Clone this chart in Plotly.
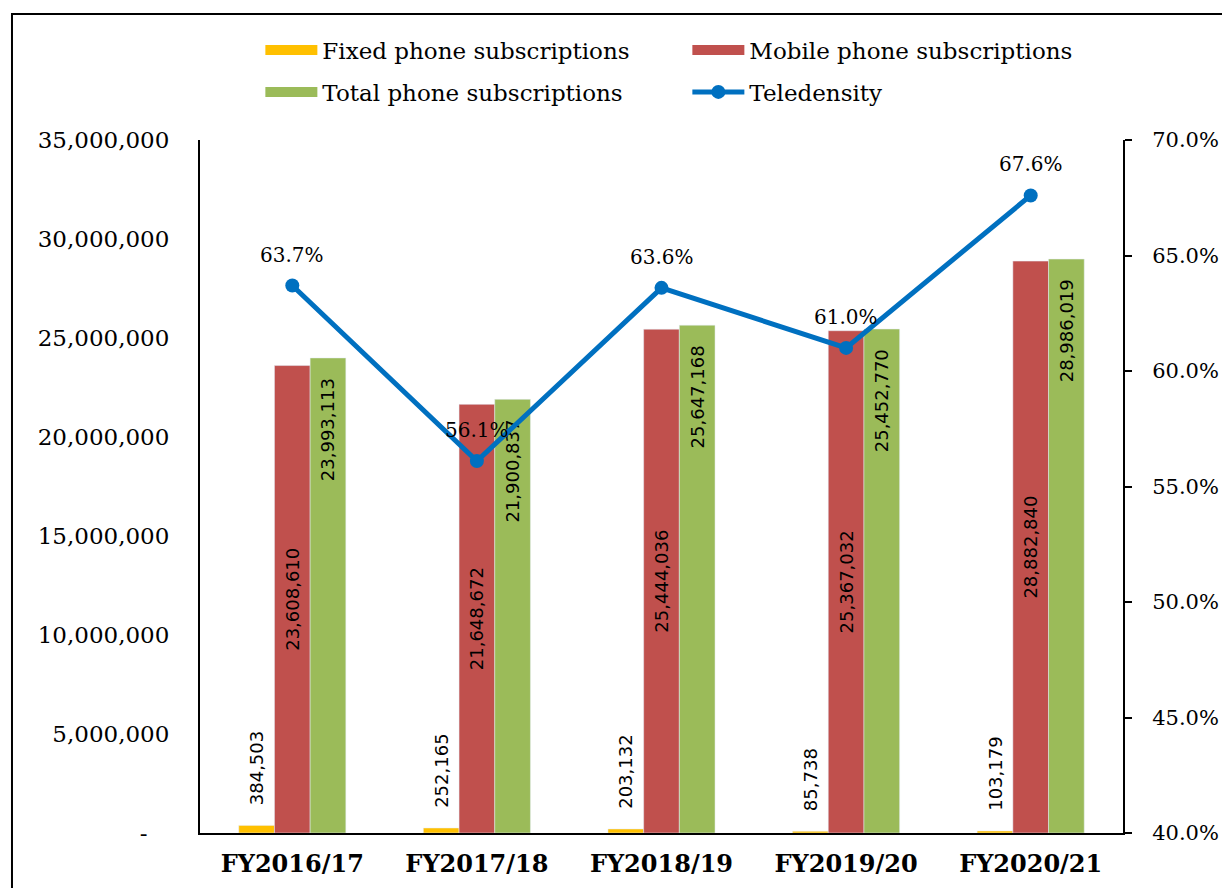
import plotly.graph_objects as go

categories = ["FY2016/17", "FY2017/18", "FY2018/19", "FY2019/20", "FY2020/21"]
fixed = [384503, 252165, 203132, 85738, 103179]
mobile = [23608610, 21648672, 25444036, 25367032, 28882840]
total = [23993113, 21900837, 25647168, 25452770, 28986019]
teledensity = [0.637, 0.561, 0.636, 0.610, 0.676]

left_ticks = [0, 5000000, 10000000, 15000000, 20000000, 25000000, 30000000, 35000000]
left_ticktext = ["-\u00a0\u00a0\u00a0"] + [f"{v:,}" for v in left_ticks[1:]]

SERIF = "DejaVu Serif"
SANS = "DejaVu Sans"
NB = "\u00a0"

C_FIXED, C_MOBILE, C_TOTAL, C_TELE = "#FFC000", "#C0504D", "#9BBB59", "#0070C0"

fig = go.Figure()

fig.add_trace(go.Bar(
    x=categories, y=fixed, name="Fixed phone subscriptions", showlegend=False,
    marker=dict(color=C_FIXED),
    text=[NB * 3 + f"{v:,}" for v in fixed], textposition="outside", textangle=-90,
    outsidetextfont=dict(family=SANS, size=18, color="black"),
    cliponaxis=False, constraintext="none",
))
fig.add_trace(go.Bar(
    x=categories, y=mobile, name="Mobile phone subscriptions", showlegend=False,
    marker=dict(color=C_MOBILE),
    text=[f"{v:,}" for v in mobile], textposition="inside", textangle=-90,
    insidetextanchor="middle",
    insidetextfont=dict(family=SANS, size=18, color="black"),
    constraintext="none",
))
fig.add_trace(go.Bar(
    x=categories, y=total, name="Total phone subscriptions", showlegend=False,
    marker=dict(color=C_TOTAL),
    text=[f"{v:,}" + NB * 3 for v in total], textposition="inside", textangle=-90,
    insidetextanchor="end",
    insidetextfont=dict(family=SANS, size=18, color="black"),
    constraintext="none",
))
fig.add_trace(go.Scatter(
    x=categories, y=teledensity, name="Teledensity", yaxis="y2", showlegend=False,
    mode="lines+markers",
    line=dict(color=C_TELE, width=5),
    marker=dict(color=C_TELE, size=14),
    cliponaxis=False,
))

# legend entries (wide swatches as in the original)
legend_items = [
    ("Fixed phone subscriptions", C_FIXED, "lines", "legend"),
    ("Mobile phone subscriptions", C_MOBILE, "lines", "legend"),
    ("Total phone subscriptions", C_TOTAL, "lines", "legend2"),
    ("Teledensity", C_TELE, "lines+markers", "legend2"),
]
for name, col, mode, lg in legend_items:
    is_line = mode != "lines"
    fig.add_trace(go.Scatter(
        x=[None], y=[None], name=name, mode=mode, legend=lg,
        line=dict(color=col, width=5 if is_line else 13),
        marker=dict(color=col, size=14),
        hoverinfo="skip",
    ))

annotations = [
    dict(x=c, y=v, yref="y2", xref="x", text=f"{v*100:.1f}%", showarrow=False,
         yshift=31, font=dict(family=SERIF, size=20, color="black"))
    for c, v in zip(categories, teledensity)
]

legend_common = dict(
    orientation="h", xanchor="left", yanchor="middle",
    entrywidth=360, entrywidthmode="pixels",
    font=dict(family=SERIF, size=23, color="black"),
    itemwidth=52, bgcolor="rgba(0,0,0,0)", traceorder="normal",
)

fig.update_layout(
    width=1222, height=888,
    margin=dict(l=200, r=99, t=140, b=55, autoexpand=False),
    paper_bgcolor="white", plot_bgcolor="white",
    barmode="group", bargap=0.42, bargroupgap=0,
    font=dict(family=SERIF, size=22, color="black"),
    showlegend=True,
    legend=dict(x=0.0654, y=1.1299, **legend_common),
    legend2=dict(x=0.0654, y=1.0693, **legend_common),
    annotations=annotations,
    xaxis=dict(
        showline=True, linecolor="black", linewidth=2,
        ticks="", showgrid=False, ticklabelstandoff=8,
        tickfont=dict(family=SERIF, size=24, color="black", weight="bold"),
    ),
    yaxis=dict(
        range=[0, 35000000], tickvals=left_ticks, ticktext=left_ticktext,
        showline=True, linecolor="black", linewidth=2,
        ticks="", showgrid=False, zeroline=False,
        ticklabelstandoff=24,
        tickfont=dict(family=SERIF, size=23, color="black"),
    ),
    yaxis2=dict(
        overlaying="y", side="right", range=[0.40, 0.70], dtick=0.05,
        tickformat=".1%",
        showline=True, linecolor="black", linewidth=2,
        ticks="outside", ticklen=7, tickwidth=2, tickcolor="black",
        showgrid=False, zeroline=False, ticklabelstandoff=16,
        tickfont=dict(family=SERIF, size=21, color="black"),
    ),
    shapes=[dict(
        type="rect", xref="paper", yref="paper",
        x0=-0.2037, x1=1.2, y0=-0.1, y1=1.1818,
        line=dict(color="black", width=2), fillcolor="rgba(0,0,0,0)",
        layer="below",
    )],
)

fig.write_html("out.html", config={"displayModeBar": False},
               post_script="document.body.style.margin='0';")
